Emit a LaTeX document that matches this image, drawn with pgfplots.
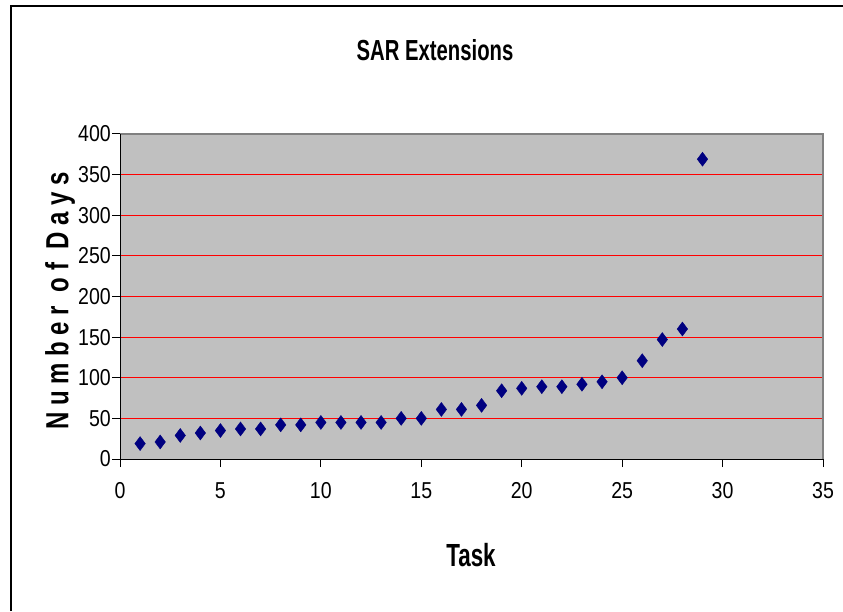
\documentclass[border=0pt]{standalone}
\usepackage{fontspec}
\setmainfont{Liberation Sans}
\newfontfamily\tickfont[FakeStretch=0.85]{Liberation Sans}
\newfontfamily\titlefont[FakeStretch=0.7]{Liberation Sans}
\newfontfamily\ylabfont[FakeStretch=0.75,LetterSpace=21]{Liberation Sans}
\usepackage{pgfplots}
\pgfplotsset{compat=1.18}
\definecolor{plotbg}{HTML}{C0C0C0}
\definecolor{navy}{HTML}{000080}
\begin{document}
\begin{tikzpicture}[x=1pt,y=1pt]
\useasboundingbox (0,0) rectangle (843,611);
\draw[line width=1.3pt] (11,0) -- (11,605) -- (843,605);
\begin{axis}[
  at={(120pt,152pt)}, anchor=south west,
  scale only axis, width=703pt, height=325pt,
  xmin=0, xmax=35, ymin=0, ymax=400,
  xtick={0,5,...,35}, ytick={0,50,...,400},
  axis background/.style={fill=plotbg},
  axis line style={draw=none},
  tick align=outside, major tick length=8pt,
  tick style={black, line width=1pt},
  xtick pos=bottom, ytick pos=left,
  ymajorgrids, grid style={red, line width=0.9pt},
  /pgf/number format/assume math mode=true,
  ticklabel style={font=\tickfont\fontsize{23}{25}\selectfont},
  yticklabel style={inner sep=1pt},
  xticklabel style={yshift=-12pt},
  clip=false,
]
\draw[gray, line width=1.2pt] (rel axis cs:0,1) -- (rel axis cs:1,1) -- (rel axis cs:1,0);
\draw[black, line width=1pt] (rel axis cs:0,1) -- (rel axis cs:0,0) -- (rel axis cs:1,0);
\addplot[only marks, mark=diamond*, mark size=7pt, mark options={fill=navy, draw=navy}] coordinates {
(1,19) (2,21) (3,29) (4,32) (5,35) (6,37) (7,37) (8,42) (9,42) (10,45)
(11,45) (12,45) (13,45) (14,50) (15,50) (16,61) (17,61) (18,66) (19,84) (20,87)
(21,89) (22,89) (23,92) (24,95) (25,100) (26,121) (27,147) (28,160) (29,369)
};
\end{axis}
\node[font=\titlefont\bfseries\fontsize{29}{31}\selectfont] at (435,561) {SAR Extensions};
\node[font=\titlefont\bfseries\fontsize{32}{34}\selectfont] at (471,56) {Task};
\node[rotate=90, font=\ylabfont\bfseries\fontsize{32}{34}\selectfont] at (60,310) {Number of Days};
\end{tikzpicture}
\end{document}
